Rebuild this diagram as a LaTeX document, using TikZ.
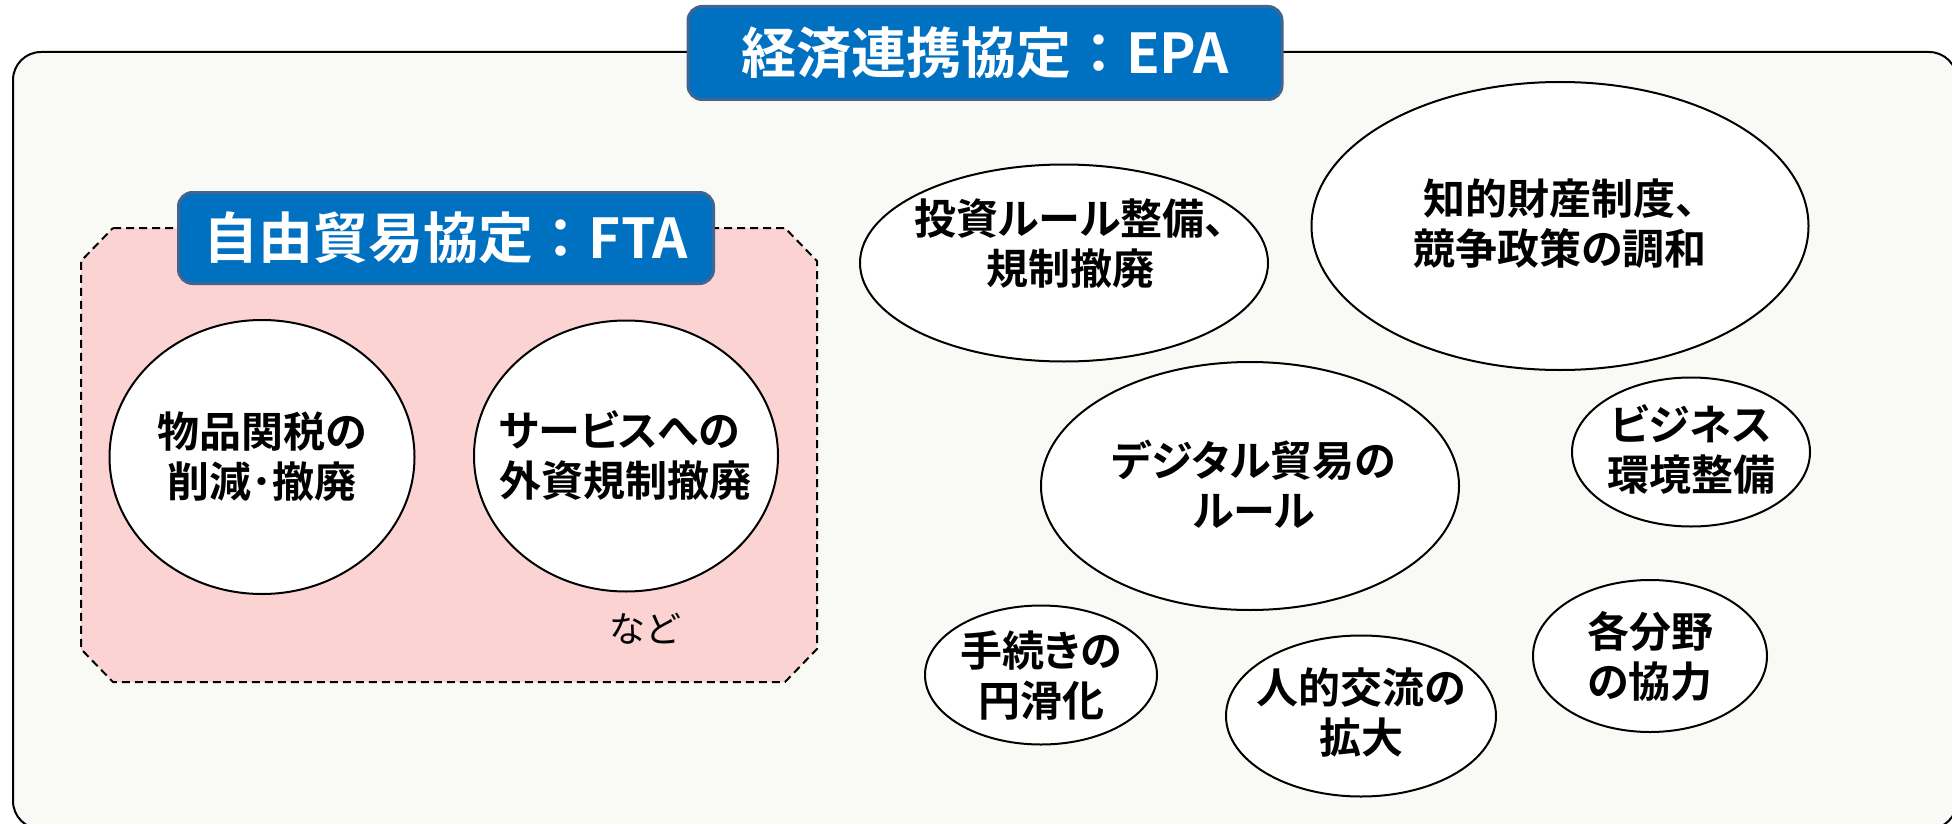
\documentclass[tikz,border=0pt]{standalone}
\usepackage{fontspec}
\setmainfont{Noto Sans CJK JP}[BoldFont={Noto Sans CJK JP Bold}]
\newfontfamily\jpp{Noto Sans CJK JP}[BoldFont={Noto Sans CJK JP Bold}, RawFeature=+palt]
\usetikzlibrary{shapes.geometric}
\definecolor{bgc}{RGB}{249,250,246}
\definecolor{titlefill}{RGB}{0,112,192}
\definecolor{titleedge}{RGB}{65,100,145}
\definecolor{pinkfill}{RGB}{251,211,210}
\tikzset{
  titlebox/.style={draw=titleedge, line width=3pt, fill=titlefill, rounded corners=14pt, text=white,
    font=\fontsize{55}{60}\selectfont\bfseries, inner sep=0pt},
  bub/.style={ellipse, draw=black, line width=2pt, fill=white, inner sep=0pt},
  btxt/.style={align=center, font=\jpp\fontsize{42}{50}\selectfont\bfseries, inner sep=0pt},
}
\begin{document}
\begin{tikzpicture}[x=1pt, y=-1pt]
\useasboundingbox (0,0) rectangle (1952,824);
\clip (0,0) rectangle (1952,824);
% outer EPA frame
\draw[line width=2pt, fill=bgc, rounded corners=28pt] (13,52) rectangle (1957,829);
\node[titlebox, minimum width=594pt, minimum height=93pt] (epa) at (985,53) {経済連携協定：EPA};
% FTA region
\draw[dashed, dash pattern=on 8pt off 5pt, line width=2pt, fill=pinkfill]
  (113,228) -- (785,228) -- (817,261) -- (817,649) -- (785,682) -- (113,682) -- (81,649) -- (81,261) -- cycle;
\node[titlebox, minimum width=535pt, minimum height=91pt] (fta) at (446,238) {自由貿易協定：FTA};
\node[font=\fontsize{36}{40}\selectfont, inner sep=0pt] (nado) at (645,629) {など};
% bubbles
\node[bub, minimum width=305pt, minimum height=274pt] (e1) at (262,457) {};
\node[btxt] (t1) at (e1.center) {物品関税の\\削減･撤廃};
\node[bub, minimum width=304pt, minimum height=271pt] (e2) at (626,456) {};
\node[btxt, align=left, anchor=west] (t2) at ([xshift=-127pt]e2.center) {サービスへの\\外資規制撤廃};
\node[bub, minimum width=408pt, minimum height=197pt] (e3) at (1064,263) {};
\node[btxt] (t3) at ([xshift=6pt, yshift=19pt]e3.center) {投資ルール整備、\\規制撤廃};
\node[bub, minimum width=497pt, minimum height=288pt] (e4) at (1560,226) {};
\node[btxt] (t4) at ([yshift=2pt]e4.center) {知的財産制度、\\競争政策の調和};
\node[bub, minimum width=418pt, minimum height=248pt] (e5) at (1250,486) {};
\node[btxt] (t5) at ([xshift=4pt, yshift=2pt]e5.center) {デジタル貿易の\\ルール};
\node[bub, minimum width=238pt, minimum height=149pt] (e6) at (1691,452) {};
\node[btxt] (t6) at ([yshift=3pt]e6.center) {ビジネス\\環境整備};
\node[bub, minimum width=232pt, minimum height=139pt] (e7) at (1041,675) {};
\node[btxt] (t7) at (e7.center) {手続きの\\円滑化};
\node[bub, minimum width=270pt, minimum height=161pt] (e8) at (1361,716) {};
\node[btxt] (t8) at ([yshift=4pt]e8.center) {人的交流の\\拡大};
\node[bub, minimum width=234pt, minimum height=152pt] (e9) at (1650,656) {};
\node[btxt] (t9) at (e9.center) {各分野\\の協力};
\end{tikzpicture}
\end{document}
